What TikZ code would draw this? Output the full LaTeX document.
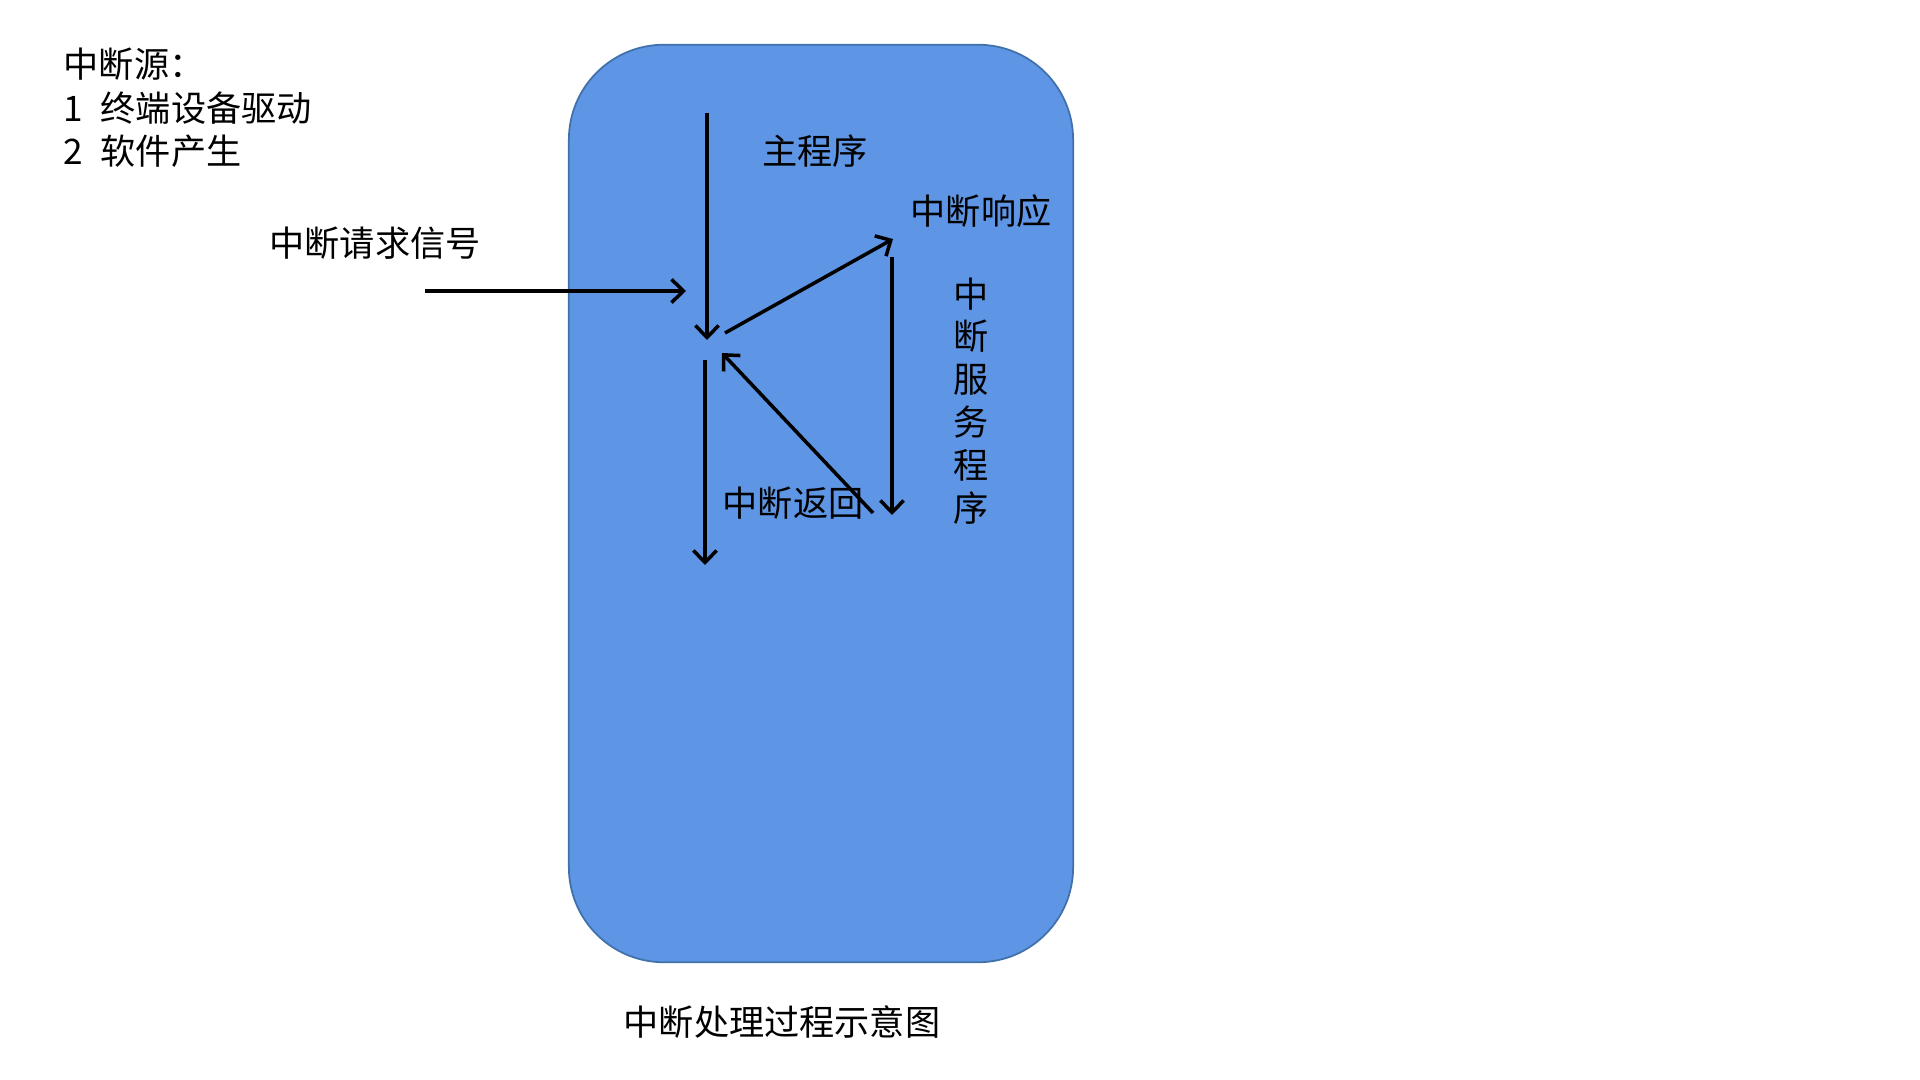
\documentclass[tikz,border=0pt]{standalone}
\usepackage{fontspec}
\newfontfamily\cjk{Noto Sans CJK SC}
\usetikzlibrary{arrows.meta}
\definecolor{boxfill}{RGB}{94,149,228}
\definecolor{boxline}{RGB}{65,113,170}
\tikzset{
  lbl/.style={font=\cjk\fontsize{10}{12.2}\selectfont, inner sep=0pt, text=black},
  flow/.style={line width=1pt, -{Straight Barb[length=3.4pt,width=6.6pt,line width=1pt]}},
}
\begin{document}
\begin{tikzpicture}[x=0.01cm,y=-0.01cm]
\useasboundingbox (0,0) rectangle (1920,1080);
\node[draw=boxline, line width=0.5pt, fill=boxfill, rounded corners=0.95cm,
      minimum width=5.04cm, minimum height=9.17cm, inner sep=0pt] (box) at (821,503.5) {};
% texts
\node[lbl, anchor=west] (src) at (63,64) {中断源：};
\node[lbl, anchor=west] (src1) at (63,108) {1\hspace{0.5em}终端设备驱动};
\node[lbl, anchor=west] (src2) at (63,151) {2\hspace{0.5em}软件产生};
\node[lbl] (req) at (375,243) {中断请求信号};
\node[lbl] (main) at (815,151) {主程序};
\node[lbl] (resp) at (981,211) {中断响应};
\node[lbl, align=center] (isr) at (971,401) {中\\断\\服\\务\\程\\序};
\node[lbl] (ret) at (793,503) {中断返回};
\node[lbl] (title) at (782,1022) {中断处理过程示意图};
% arrow endpoints
\coordinate (a1) at (707,113);
\coordinate (a2) at (707,340);
\coordinate (r1) at (425,291);
\coordinate (r2) at (686,291);
\coordinate (d1) at (725,333);
\coordinate (d2) at (893,239);
\coordinate (s1) at (892,257);
\coordinate (s2) at (892,515);
\coordinate (b1) at (873,513);
\coordinate (b2) at (722,353);
\coordinate (c1) at (705,360);
\coordinate (c2) at (705,565);
\draw[flow] (a1) -- (a2);
\draw[flow] (r1) -- (r2);
\draw[flow] (d1) -- (d2);
\draw[flow] (s1) -- (s2);
\draw[flow] (b1) -- (b2);
\draw[flow] (c1) -- (c2);
\end{tikzpicture}
\end{document}
